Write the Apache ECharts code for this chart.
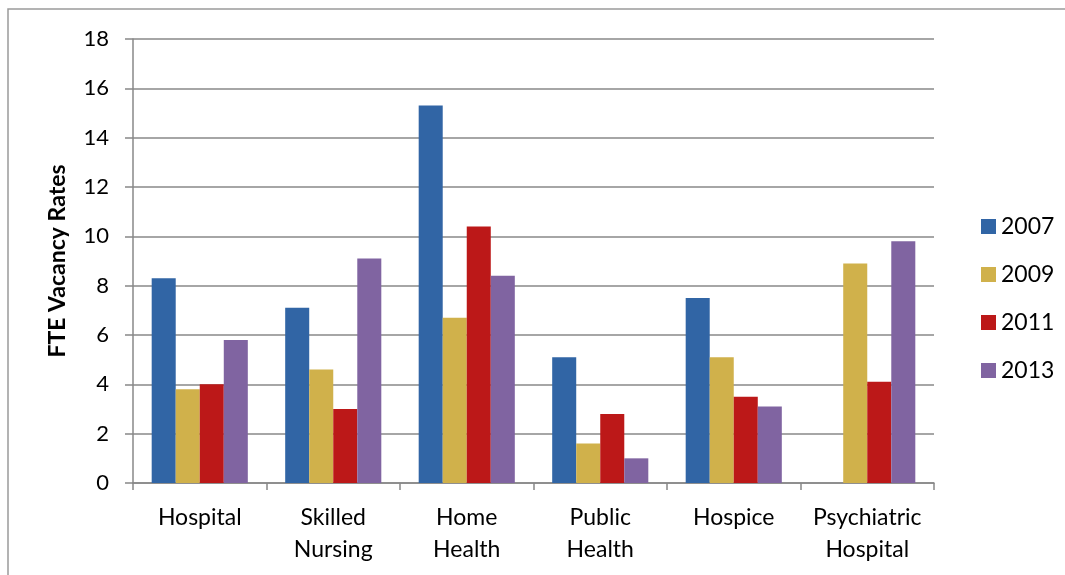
<!DOCTYPE html>
<html><head><meta charset="utf-8">
<script src="https://cdn.jsdelivr.net/npm/echarts@6/dist/echarts.min.js"></script>
<style>html,body{margin:0;padding:0;background:#fff}#c{width:1065px;height:575px}</style>
</head><body><div id="c"></div>
<script>
const categories = ['Hospital', 'Skilled\nNursing', 'Home\nHealth', 'Public\nHealth', 'Hospice', 'Psychiatric\nHospital'];
const years = ['2007', '2009', '2011', '2013'];
const v2007 = [8.3, 7.1, 15.3, 5.1, 7.5, null];
const v2009 = [3.8, 4.6, 6.7, 1.6, 5.1, 8.9];
const v2011 = [4.0, 3.0, 10.4, 2.8, 3.5, 4.1];
const v2013 = [5.8, 9.1, 8.4, 1.0, 3.1, 9.8];
const yTicks = [0, 2, 4, 6, 8, 10, 12, 14, 16, 18];
const colors = ['#3165A5', '#D0B14B', '#BC1818', '#8064A1'];
const seriesData = [v2007, v2009, v2011, v2013];
const font = 'Lato, "Open Sans", sans-serif';

const chart = echarts.init(document.getElementById('c'));
chart.setOption({
  animation: false,
  graphic: [{ type: 'rect', shape: { x: 8, y: 9, width: 1100, height: 600 },
    style: { fill: 'none', stroke: '#9a9a9a', lineWidth: 1.5 }, z: -1 }],
  grid: { left: 133, right: 131, top: 39, bottom: 92 },
  legend: {
    data: years, orient: 'vertical', left: 976, top: 210, itemGap: 25,
    icon: 'rect', itemWidth: 15, itemHeight: 15,
    textStyle: { fontFamily: font, fontSize: 23, color: '#000', padding: [0, 0, 0, 0] }
  },
  xAxis: {
    type: 'category', data: categories,
    axisLine: { lineStyle: { color: '#888', width: 1.5 } },
    axisTick: { show: true, length: 7, lineStyle: { color: '#888', width: 1.5 } },
    axisLabel: { fontFamily: font, fontSize: 23, color: '#000', margin: 19, lineHeight: 32, interval: 0 },
    splitLine: { show: false }
  },
  yAxis: {
    type: 'value', min: yTicks[0], max: yTicks[yTicks.length - 1], interval: 2,
    name: 'FTE Vacancy Rates', nameLocation: 'middle', nameGap: 64,
    nameTextStyle: { fontFamily: font, fontSize: 23, fontWeight: 'bold', color: '#000' },
    axisLine: { show: true, lineStyle: { color: '#888', width: 1.5 } },
    axisTick: { show: true, length: 8, lineStyle: { color: '#888', width: 1.5 } },
    axisLabel: { fontFamily: font, fontSize: 22, color: '#000', margin: 24 },
    splitLine: { lineStyle: { color: '#888', width: 1.5 } }
  },
  series: years.map((y, i) => ({
    name: y, type: 'bar', data: seriesData[i],
    barGap: '0%', barCategoryGap: '28%',
    itemStyle: { color: colors[i] }
  }))
});
</script></body></html>
